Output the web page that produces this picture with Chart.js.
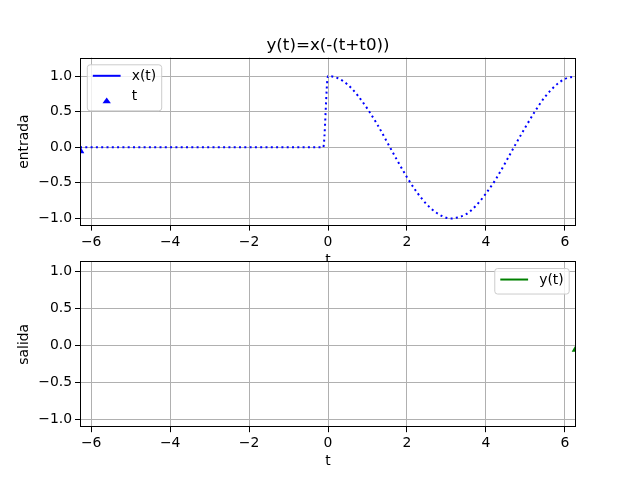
<!DOCTYPE html>
<html>
<head>
<meta charset="utf-8">
<script src="https://cdn.jsdelivr.net/npm/chart.js@4.4.0/dist/chart.umd.min.js"></script>
<style>
  html, body { margin: 0; padding: 0; background: #fff; }
  #wrap { position: relative; width: 640px; height: 480px; overflow: hidden; }
  canvas { position: absolute; left: 0; }
  #topChart { top: 0; }
  #botChart { top: 250px; }
</style>
</head>
<body>
<div id="wrap">
  <canvas id="topChart" width="640" height="280"></canvas>
  <canvas id="botChart" width="640" height="230"></canvas>
</div>
<script>
// values
const tIn = [-6.2832, -0.12, 0, 0.25, 0.5, 0.75, 1, 1.25, 1.5, 1.75, 2, 2.25, 2.5, 2.75, 3, 3.14, 3.25, 3.5, 3.75, 4, 4.25, 4.5, 4.75, 5, 5.25, 5.5, 5.75, 6, 6.2832];
const xIn = [0, 0, 1.0, 0.97, 0.88, 0.73, 0.54, 0.32, 0.07, -0.18, -0.42, -0.63, -0.80, -0.92, -0.99, -1.0, -0.99, -0.94, -0.82, -0.65, -0.45, -0.21, 0.04, 0.28, 0.51, 0.71, 0.86, 0.96, 1.0];
const tMarkIn = [-6.2832];
const xMarkIn = [-0.05];
const tOut = [];
const yOut = [];
const tMarkOut = [6.2832];
const yMarkOut = [-0.05];
const xTicks = [-6, -4, -2, 0, 2, 4, 6];
const yTicks = [-1.0, -0.5, 0.0, 0.5, 1.0];
const tRange = [-6.2832, 6.2832];
const yRangeTop = [-1.1, 1.26];
const yRangeBot = [-1.1, 1.133];

const titleText = 'y(t)=x(-(t+t0))';
const xLabel = 't';
const topYLabel = 'entrada';
const botYLabel = 'salida';

const FONT_FAMILY = '"DejaVu Sans", sans-serif';
const FONT = { family: FONT_FAMILY, size: 13.9 };
const minus = s => String(s).replace('-', '\u2212');

function pts(xs, ys) { return xs.map((x, i) => ({ x: x, y: ys[i] })); }

// white axes background (hides the upper 't' label like matplotlib does)
const axesBg = {
  id: 'axesBg',
  beforeDraw(chart) {
    const { ctx, chartArea: a } = chart;
    ctx.save();
    ctx.fillStyle = '#fff';
    ctx.fillRect(a.left, a.top, a.right - a.left, a.bottom - a.top);
    ctx.restore();
  }
};

const frame = {
  id: 'frame',
  afterDraw(chart) {
    const { ctx, chartArea: a } = chart;
    const x0 = Math.round(a.left) + 0.5, x1 = Math.round(a.right) - 0.5;
    const y0 = Math.round(a.top) + 0.5, y1 = Math.round(a.bottom) - 0.5;
    ctx.save();
    ctx.strokeStyle = '#000';
    ctx.lineWidth = 1;
    ctx.strokeRect(x0, y0, x1 - x0, y1 - y0);
    ctx.restore();
  }
};

const axTitle = {
  id: 'axTitle',
  afterDraw(chart, args, opts) {
    if (!opts.text) return;
    const { ctx, chartArea: a } = chart;
    ctx.save();
    ctx.font = '16.7px ' + FONT_FAMILY;
    ctx.fillStyle = '#000';
    ctx.textAlign = 'center';
    ctx.textBaseline = 'alphabetic';
    ctx.fillText(opts.text, (a.left + a.right) / 2, a.top - 7.5);
    ctx.restore();
  }
};

// matplotlib style legend box inside the axes
const boxLegend = {
  id: 'boxLegend',
  afterDraw(chart, args, opts) {
    const items = opts.items || [];
    if (!items.length) return;
    const { ctx, chartArea: a } = chart;
    ctx.save();
    ctx.font = FONT.size + 'px ' + FONT_FAMILY;
    const pad = 5.5, hl = 27.8, tp = 11.1, row = 20.5;
    const tw = Math.max.apply(null, items.map(i => ctx.measureText(i.label).width));
    const w = pad + hl + tp + tw + pad;
    const h = 5 + items.length * row;
    const x = opts.corner === 'right' ? a.right - 6.8 - w : a.left + 7.3;
    const y = a.top + 7.2;
    const r = 2.8;
    ctx.beginPath();
    ctx.moveTo(x + r, y);
    ctx.arcTo(x + w, y, x + w, y + h, r);
    ctx.arcTo(x + w, y + h, x, y + h, r);
    ctx.arcTo(x, y + h, x, y, r);
    ctx.arcTo(x, y, x + w, y, r);
    ctx.closePath();
    ctx.fillStyle = 'rgba(255,255,255,0.8)';
    ctx.fill();
    ctx.strokeStyle = '#cccccc';
    ctx.lineWidth = 1;
    ctx.stroke();
    items.forEach((it, k) => {
      const cy = y + 11 + k * row;
      if (it.kind === 'line') {
        ctx.beginPath();
        ctx.strokeStyle = it.color;
        ctx.lineWidth = 2;
        ctx.moveTo(x + pad, cy);
        ctx.lineTo(x + pad + hl, cy);
        ctx.stroke();
      } else {
        const cx = x + pad + hl / 2;
        ctx.beginPath();
        ctx.fillStyle = it.color;
        ctx.moveTo(cx, cy + 1.3);
        ctx.lineTo(cx + 4.2, cy + 7);
        ctx.lineTo(cx - 4.2, cy + 7);
        ctx.closePath();
        ctx.fill();
      }
      ctx.fillStyle = '#000';
      ctx.textAlign = 'left';
      ctx.textBaseline = 'middle';
      ctx.fillText(it.label, x + pad + hl + tp, cy + 0.5);
    });
    ctx.restore();
  }
};

function xScale(height, titlePad) {
  return {
    type: 'linear',
    min: tRange[0],
    max: tRange[1],
    afterBuildTicks: s => { s.ticks = xTicks.map(v => ({ value: v })); },
    afterFit: s => { s.height = height; },
    grid: { color: '#b0b0b0', lineWidth: 1, tickColor: '#000', tickLength: 5, tickWidth: 1 },
    border: { display: false },
    ticks: { color: '#000', font: FONT, padding: 3, autoSkip: false, maxRotation: 0, callback: v => minus(v) },
    title: { display: true, text: xLabel, color: '#000', font: FONT, padding: { top: 0, bottom: titlePad } }
  };
}

function yScale(range, label) {
  return {
    type: 'linear',
    min: range[0],
    max: range[1],
    afterBuildTicks: s => { s.ticks = yTicks.map(v => ({ value: v })); },
    afterFit: s => { s.width = 80; },
    grid: { color: '#b0b0b0', lineWidth: 1, tickColor: '#000', tickLength: 5, tickWidth: 1 },
    border: { display: false },
    ticks: { color: '#000', font: FONT, padding: 3, autoSkip: false, callback: v => minus(v.toFixed(1)) },
    title: { display: true, text: label, color: '#000', font: FONT, padding: { top: 15.7, bottom: 0 } }
  };
}

const baseOpts = {
  responsive: false,
  animation: false,
  events: [],
  plugins: { legend: { display: false }, tooltip: { enabled: false } }
};

new Chart(document.getElementById('topChart'), {
  type: 'scatter',
  data: {
    datasets: [
      {
        label: 'x(t)',
        data: pts(tIn, xIn),
        showLine: true,
        borderColor: '#0000ff',
        borderWidth: 2,
        borderDash: [2, 3.3],
        cubicInterpolationMode: 'monotone',
        pointRadius: 0,
        fill: false
      },
      {
        label: 't',
        data: pts(tMarkIn, xMarkIn),
        pointStyle: 'triangle',
        pointRadius: 5,
        backgroundColor: '#0000ff',
        borderWidth: 0,
        clip: 0
      }
    ]
  },
  options: Object.assign({}, baseOpts, {
    layout: { padding: { top: 57.6, right: 64, left: 0, bottom: 0 } },
    scales: { x: xScale(280 - 225.6, 11), y: yScale(yRangeTop, topYLabel) },
    plugins: Object.assign({}, baseOpts.plugins, {
      axTitle: { text: titleText },
      boxLegend: {
        corner: 'left',
        items: [
          { kind: 'line', color: '#0000ff', label: 'x(t)' },
          { kind: 'tri', color: '#0000ff', label: 't' }
        ]
      }
    })
  }),
  plugins: [axesBg, axTitle, boxLegend, frame]
});

new Chart(document.getElementById('botChart'), {
  type: 'scatter',
  data: {
    datasets: [
      {
        label: 'y(t)',
        data: pts(tOut, yOut),
        showLine: true,
        borderColor: '#008000',
        borderWidth: 2,
        pointRadius: 0
      },
      {
        label: '',
        data: pts(tMarkOut, yMarkOut),
        pointStyle: 'triangle',
        pointRadius: 5,
        backgroundColor: '#008000',
        borderWidth: 0,
        clip: 0
      }
    ]
  },
  options: Object.assign({}, baseOpts, {
    layout: { padding: { top: 9.2, right: 64, left: 0, bottom: 0 } },
    scales: { x: xScale(230 - 177.2, 10), y: yScale(yRangeBot, botYLabel) },
    plugins: Object.assign({}, baseOpts.plugins, {
      boxLegend: {
        corner: 'right',
        items: [{ kind: 'line', color: '#008000', label: 'y(t)' }]
      }
    })
  }),
  plugins: [axesBg, boxLegend, frame]
});
</script>
</body>
</html>
